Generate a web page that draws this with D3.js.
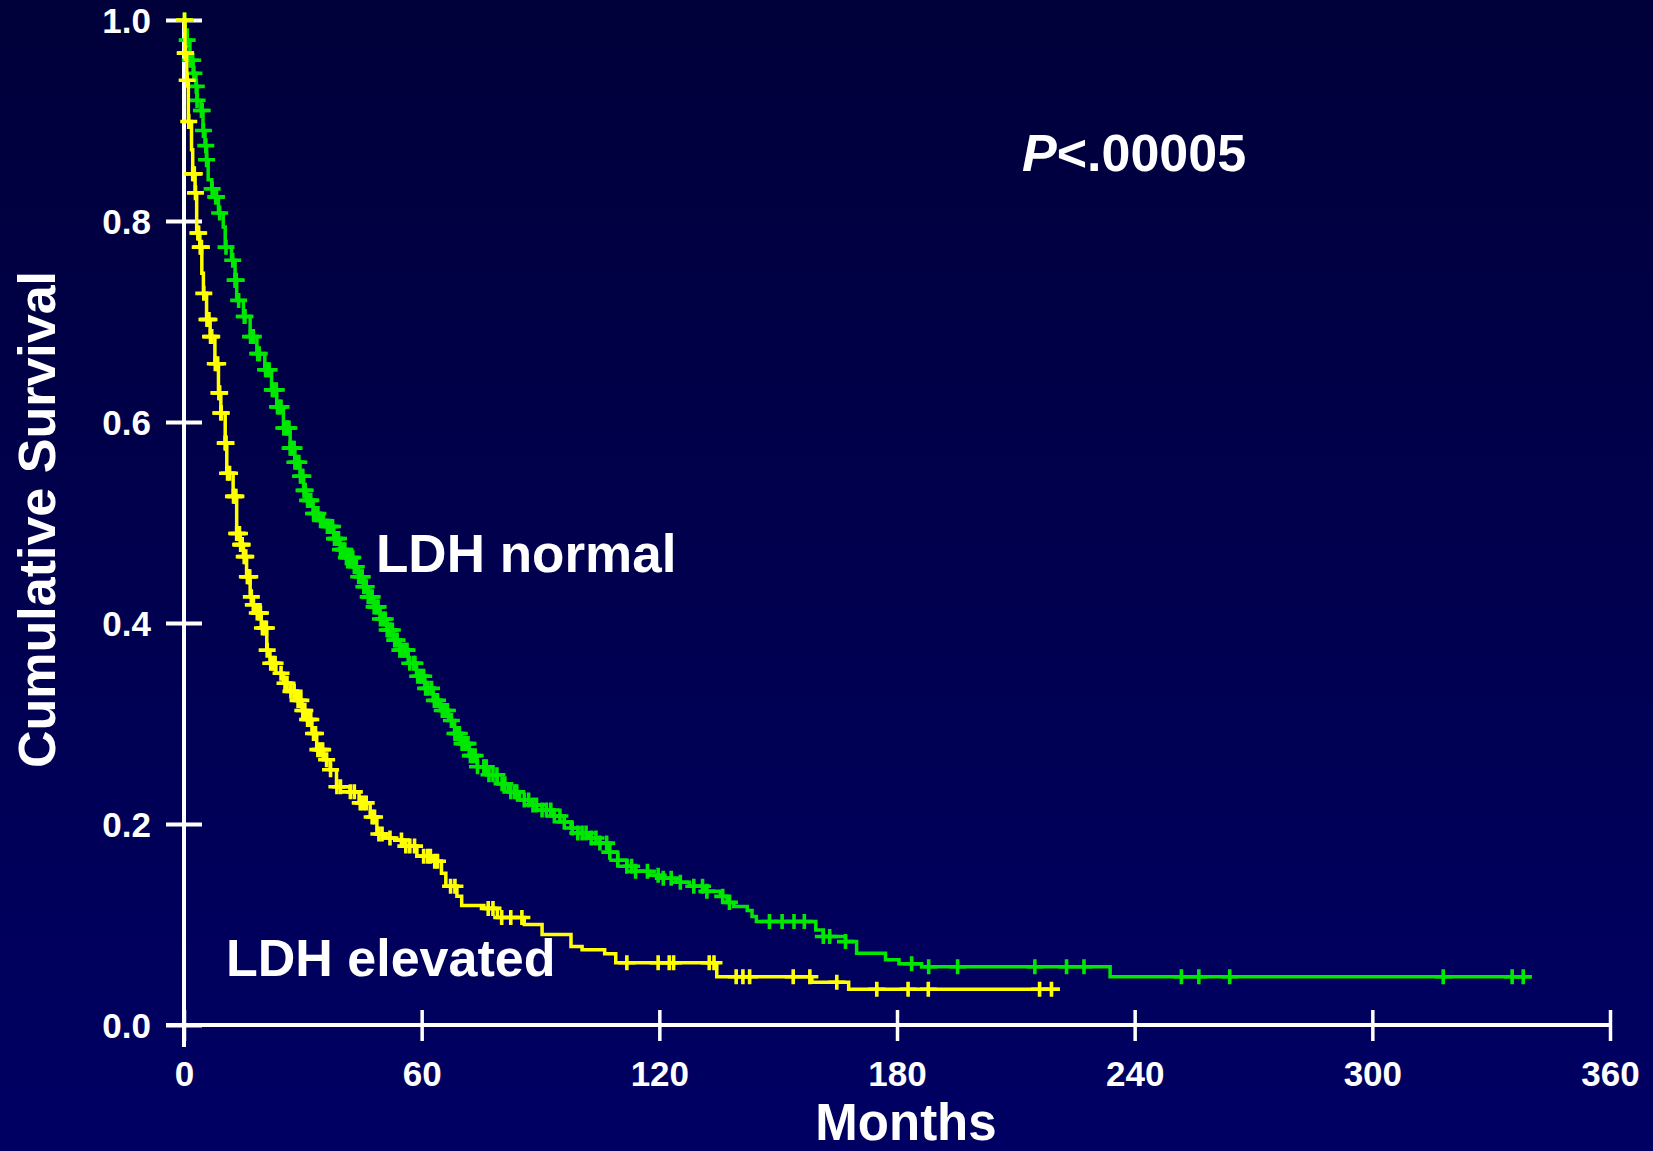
<!DOCTYPE html>
<html><head><meta charset="utf-8">
<script src="https://cdn.jsdelivr.net/npm/d3@7"></script>
<style>html,body{margin:0;padding:0;background:#000048;overflow:hidden;} svg{display:block;}</style>
</head><body>
<svg id="chart" width="1653" height="1151"></svg>
<script>
// ---------- data ----------
const monthTicks = [0, 60, 120, 180, 240, 300, 360];
const survivalTicks = [0, 0.2, 0.4, 0.6, 0.8, 1.0];

// LDH normal: [month, cumulative survival after the step]
const normalSteps = [[0,1.0],[0.3,0.99],[0.8,0.98],[1.5,0.96],[2.3,0.947],[3.0,0.934],[3.3,0.92],[4.3,0.91],[4.8,0.89],[5.3,0.875],[5.7,0.861],[6.1,0.841],[7.0,0.832],[7.8,0.824],[8.7,0.808],[9.9,0.794],[10.4,0.774],[12.0,0.761],[12.9,0.741],[13.3,0.721],[15.0,0.705],[16.7,0.685],[18.4,0.668],[20.4,0.652],[22.1,0.632],[23.4,0.615],[25.1,0.594],[26.8,0.574],[28.0,0.56],[29.3,0.546],[30.2,0.532],[31.0,0.522],[32.6,0.509],[34.3,0.502],[36.0,0.496],[37.8,0.484],[39.4,0.473],[41.0,0.465],[42.7,0.456],[44.0,0.446],[45.3,0.436],[46.5,0.426],[47.8,0.416],[49.5,0.404],[51.2,0.393],[52.8,0.383],[54.5,0.373],[56.6,0.36],[58.7,0.347],[60.8,0.335],[62.9,0.323],[64.8,0.313],[66.8,0.303],[68.3,0.29],[70.0,0.28],[72.0,0.268],[74.0,0.257],[76.5,0.249],[79.1,0.240],[81.9,0.232],[84.7,0.224],[87.5,0.219],[90.4,0.214],[93.2,0.208],[96.0,0.202],[97.7,0.196],[99.4,0.191],[102.2,0.186],[105.0,0.181],[107.3,0.172],[109.5,0.164],[111.8,0.158],[114.0,0.153],[117.4,0.149],[120.8,0.146],[124.2,0.142],[127.6,0.138],[131.5,0.133],[135.4,0.128],[137.1,0.122],[138.8,0.118],[142.2,0.114],[143.4,0.108],[144.5,0.103],[159.5,0.0945],[161.4,0.088],[167.0,0.083],[169.8,0.0713],[177.1,0.065],[180.5,0.061],[186.2,0.058],[233.8,0.048]];
const normalEnd = 340.2;
const normalCensored = [0.2,0.8,1.6,2.2,2.5,3.1,3.3,4.4,4.6,4.9,5.5,5.7,7.1,8.0,8.2,9.0,10.6,12.3,12.9,13.0,13.2,13.8,15.2,15.4,16.8,17.5,18.6,19.0,20.6,21.0,21.5,22.3,22.7,23.3,23.6,24.0,24.5,25.2,25.5,26.0,26.2,26.5,26.8,27.0,27.4,27.8,28.0,28.5,29.0,29.4,29.8,30.0,30.3,30.6,31.2,31.8,32.0,32.7,33.0,33.8,34.5,35.2,36.2,36.6,37.0,37.5,38.0,38.5,39.0,39.5,40.2,40.6,41.0,41.5,42.2,42.6,43.0,43.5,44.1,44.7,45.0,45.4,46.0,46.5,47.0,47.5,48.0,48.6,49.0,49.6,50.3,50.8,51.3,51.8,52.0,52.6,53.2,53.8,54.5,55.0,55.5,56.0,56.3,57.0,58.0,58.3,59.0,59.5,60.0,60.5,61.0,61.6,62.5,63.2,64.0,65.2,66.0,66.5,67.5,68.4,69.0,69.5,70.2,70.8,71.3,71.7,72.3,72.8,73.5,74.1,75.7,76.3,77.0,78.0,79.0,80.3,81.0,82.5,83.5,84.0,85.9,87.0,88.1,89.0,90.4,91.5,92.6,93.5,94.9,96.0,98.0,99.4,100.5,101.5,102.8,104.0,105.0,106.7,107.5,109.5,111.8,113.0,114.0,117.0,119.7,121.0,123.0,125.3,128.7,130.9,132.0,136.0,137.7,147.8,151.0,154.0,156.6,161.4,163.0,167.0,183.7,188.0,195.3,214.8,222.8,227.2,251.8,256.2,264.0,317.9,335.3,338.1];

// LDH elevated
const elevatedSteps = [[0,1.0],[0.25,0.967],[0.7,0.94],[1.1,0.899],[1.9,0.871],[2.2,0.847],[2.8,0.828],[3.2,0.788],[4.0,0.774],[4.5,0.748],[4.9,0.728],[5.7,0.702],[6.6,0.685],[7.8,0.658],[8.7,0.629],[9.3,0.609],[10.4,0.579],[10.8,0.549],[12.4,0.526],[13.3,0.489],[14.2,0.478],[15.0,0.466],[15.8,0.446],[16.7,0.426],[17.5,0.418],[18.3,0.41],[19.5,0.395],[20.9,0.373],[21.7,0.36],[23.2,0.35],[25.1,0.34],[26.8,0.332],[28.5,0.323],[29.8,0.313],[31.0,0.304],[32.3,0.29],[33.5,0.274],[35.2,0.264],[36.9,0.254],[38.5,0.237],[41.9,0.232],[44.2,0.221],[47.0,0.207],[48.7,0.19],[50.9,0.186],[53.2,0.184],[55.4,0.178],[58.8,0.168],[62.8,0.163],[65.0,0.151],[66.1,0.138],[68.9,0.128],[70.1,0.119],[75.7,0.116],[79.1,0.107],[85.9,0.100],[90.4,0.09],[97.7,0.078],[100.5,0.075],[106.2,0.071],[109.0,0.062],[134.5,0.048],[158.5,0.0425],[167.8,0.0355]];
const elevatedEnd = 221.0;
const elevatedCensored = [0.1,0.3,0.4,0.8,1.2,2.2,2.4,2.6,2.9,3.5,3.7,4.1,4.4,5.0,5.8,6.0,6.3,6.7,7.0,7.9,8.5,8.8,9.0,9.3,9.4,10.4,10.5,10.6,11.0,11.5,12.5,12.8,13.1,13.3,13.5,14.0,14.3,14.5,14.7,15.2,15.6,16.0,16.3,16.6,17.0,17.5,18.5,19.0,19.3,19.8,20.4,20.8,21.0,21.9,22.5,23.0,24.5,25.5,26.0,27.0,27.8,28.8,29.5,30.0,30.5,31.2,31.5,32.0,32.7,33.2,33.8,34.5,35.0,36.0,37.0,38.6,39.5,42.0,43.0,44.5,45.3,46.0,47.5,48.1,49.2,50.0,52.0,54.9,56.0,57.0,58.2,60.5,61.5,62.2,63.3,64.0,67.3,68.4,76.8,78.0,80.2,82.5,85.3,111.8,119.7,122.5,123.6,132.6,133.8,139.4,141.1,142.8,153.8,158.0,164.8,174.9,182.8,187.9,216.0,219.0];

// ---------- drawing ----------
const W = 1653, H = 1151;
const FONT = '"Liberation Sans", Arial, Helvetica, sans-serif';
const svg = d3.select('#chart');
const defs = svg.append('defs');
const grad = defs.append('linearGradient').attr('id','bg').attr('x1',0).attr('y1',0).attr('x2',0).attr('y2',1);
grad.append('stop').attr('offset','0%').attr('stop-color','#00003a');
grad.append('stop').attr('offset','100%').attr('stop-color','#000064');
svg.append('rect').attr('width',W).attr('height',H).attr('fill','url(#bg)');

const x = d3.scaleLinear().domain([0,360]).range([184,1610]);
const y = d3.scaleLinear().domain([0,1]).range([1025,20]);

// X axis
const xAxis = svg.append('g').attr('transform',`translate(0,${y(0)})`)
  .call(d3.axisBottom(x).tickValues(monthTicks).tickFormat(d3.format('d')).tickSizeOuter(0));
xAxis.select('.domain').remove();
xAxis.insert('line',':first-child').attr('x1',x(0)-18).attr('x2',x(360)).attr('y1',0).attr('y2',0)
  .attr('stroke','#fff').attr('stroke-width',4);
xAxis.selectAll('.tick line').attr('y1',-15).attr('y2',16).attr('stroke','#fff').attr('stroke-width',3.5);
xAxis.selectAll('.tick text').attr('y',61).attr('dy',0).attr('fill','#fff')
  .style('font-family',FONT).style('font-weight','bold').style('font-size','35px');

// Y axis
const yAxis = svg.append('g').attr('transform',`translate(${x(0)},0)`)
  .call(d3.axisLeft(y).tickValues(survivalTicks).tickFormat(d3.format('.1f')).tickSizeOuter(0));
yAxis.select('.domain').remove();
yAxis.insert('line',':first-child').attr('x1',0).attr('x2',0).attr('y1',y(1)).attr('y2',y(0)+22)
  .attr('stroke','#fff').attr('stroke-width',4);
yAxis.selectAll('.tick line').attr('x1',-18).attr('x2',18).attr('stroke','#fff').attr('stroke-width',4);
yAxis.selectAll('.tick text').attr('x',-33).attr('dy','0.36em').attr('fill','#fff')
  .style('font-family',FONT).style('font-weight','bold').style('font-size','35px');

// curves
function survAt(steps, t){
  let s = steps[0][1];
  for (const [tt, ss] of steps){ if (tt <= t) s = ss; else break; }
  return s;
}
const line = d3.line().x(d=>x(d[0])).y(d=>y(d[1])).curve(d3.curveStepAfter);
function drawGroup(steps, end, censored, color){
  const pts = steps.concat([[end, steps[steps.length-1][1]]]);
  const g = svg.append('g');
  g.append('path').attr('d', line(pts)).attr('fill','none').attr('stroke',color)
    .attr('stroke-width',3.5).attr('stroke-linejoin','miter');
  g.selectAll('path.cens').data(censored).enter().append('path').attr('class','cens')
    .attr('d','M-8.5,0H8.5M0,-7.5V7.5')
    .attr('transform',d=>`translate(${x(d)},${y(survAt(steps,d))})`)
    .attr('stroke',color).attr('stroke-width',3.6).attr('fill','none');
}
drawGroup(normalSteps, normalEnd, normalCensored, '#00e800');
drawGroup(elevatedSteps, elevatedEnd, elevatedCensored, '#ffff00');

// texts
function label(txt, xx, yy, size, anchor){
  return svg.append('text').attr('x',xx).attr('y',yy).attr('fill','#fff')
    .attr('text-anchor',anchor||'start')
    .style('font-family',FONT).style('font-weight','bold').style('font-size',size+'px').text(txt);
}
label('LDH normal', 376, 572, 53);
label('LDH elevated', 226, 976, 52);
label('Months', 906, 1140, 51, 'middle');
const p = svg.append('text').attr('x',1022).attr('y',171).attr('fill','#fff')
  .style('font-family',FONT).style('font-weight','bold').style('font-size','52px');
p.append('tspan').style('font-style','italic').text('P');
p.append('tspan').text('<.00005');
svg.append('text').attr('transform','translate(55,519.5) rotate(-90)').attr('text-anchor','middle')
  .attr('fill','#fff').style('font-family',FONT).style('font-weight','bold').style('font-size','52px')
  .text('Cumulative Survival');
</script>
</body></html>
